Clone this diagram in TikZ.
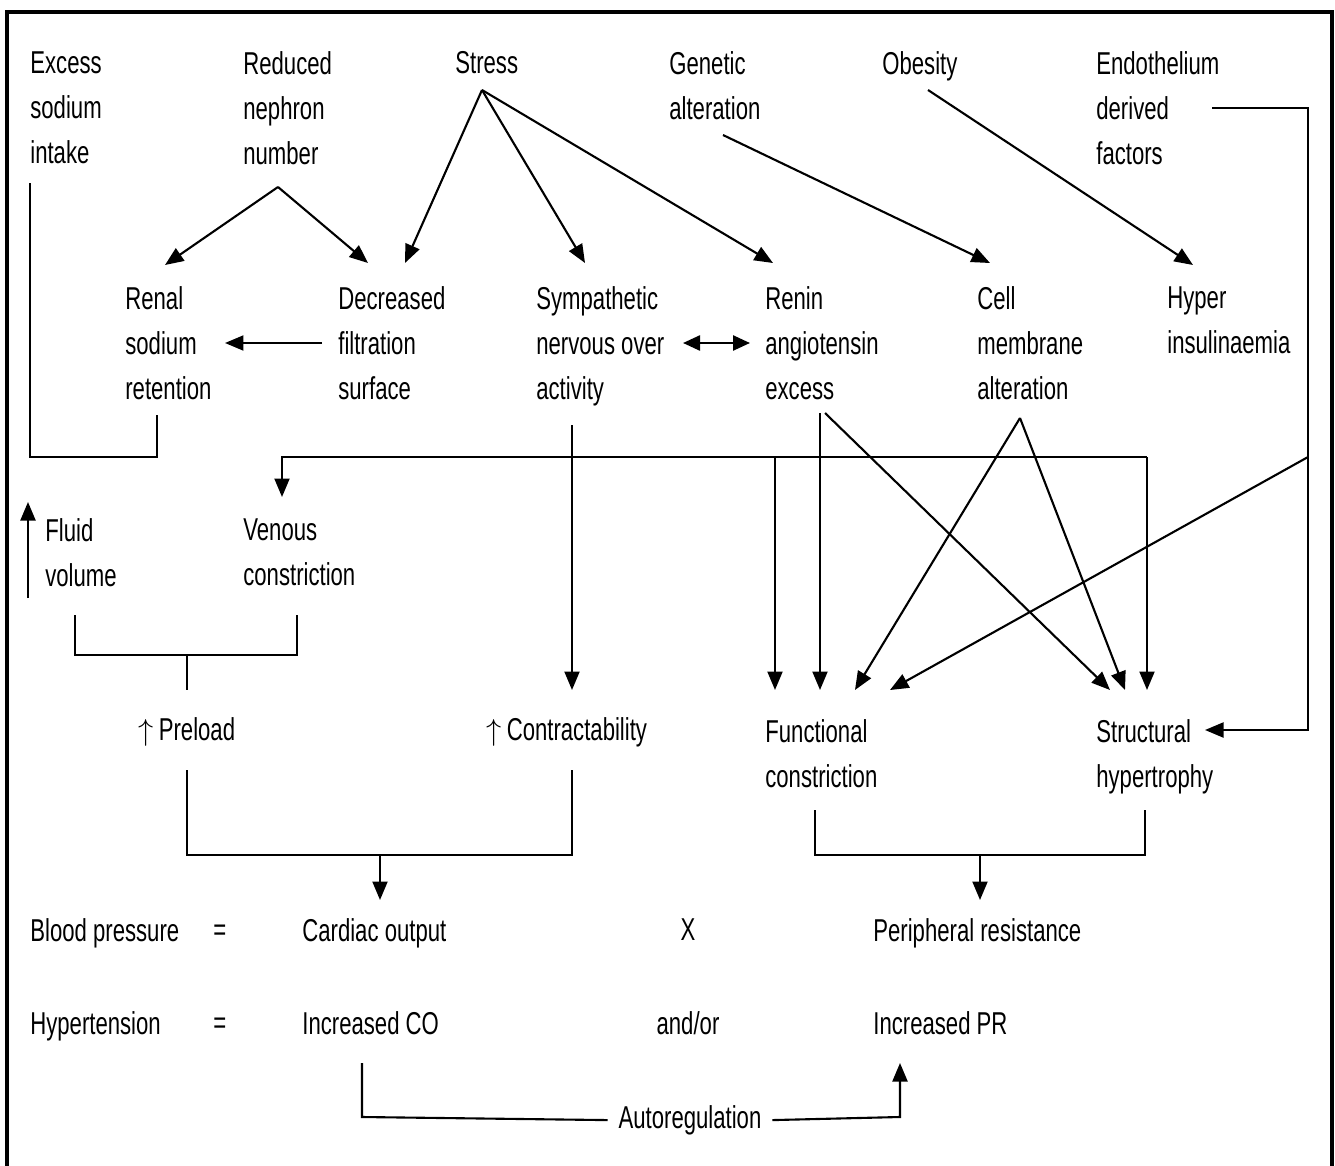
\documentclass[tikz,border=0pt]{standalone}
\usepackage{fontspec}
\setmainfont{Liberation Sans}[FakeStretch=0.7]
\usetikzlibrary{arrows.meta}
\begin{document}
\begin{tikzpicture}[x=0.02cm, y=-0.02cm, line join=miter, line cap=butt,
	lbl/.style={anchor=north west, inner sep=0pt, align=left, font=\fontsize{18}{25.6}\selectfont},
	ctr/.style={anchor=north, inner sep=0pt, font=\fontsize{18}{25.6}\selectfont},
	ln/.style={line width=1.2pt},
	arr/.style={line width=1.2pt, -{Triangle[length=0.37cm, width=0.3cm]}},
	darr/.style={line width=1.4pt, {Triangle[length=0.34cm, width=0.3cm]}-{Triangle[length=0.34cm, width=0.3cm]}}]
	\useasboundingbox (0,0) rectangle (1335,1166);
	\draw[line width=2.4pt] (7,1180) -- (7,12) -- (1332,12) -- (1332,1180);
	\node[lbl] (exc) at (30,51) {Excess\\sodium\\intake};
	\node[lbl] (red) at (243,51) {Reduced\\nephron\\number};
	\node[lbl] (str) at (455,51) {Stress};
	\node[lbl] (gen) at (669,51) {Genetic\\alteration};
	\node[lbl] (obe) at (882,51) {Obesity};
	\node[lbl] (endo) at (1096,51) {Endothelium\\derived\\factors};
	\node[lbl] (ren) at (125,286) {Renal\\sodium\\retention};
	\node[lbl] (dec) at (338,286) {Decreased\\filtration\\surface};
	\node[lbl] (sym) at (536,286) {Sympathetic\\nervous over\\activity};
	\node[lbl] (rai) at (765,286) {Renin\\angiotensin\\excess};
	\node[lbl] (cell) at (977,286) {Cell\\membrane\\alteration};
	\node[lbl] (hyp) at (1167,286) {Hyper\\insulinaemia};
	\node[lbl] (flu) at (45,518) {Fluid\\volume};
	\node[lbl] (ven) at (243,518) {Venous\\constriction};
	\node[lbl] (pre) at (138,717) {$\uparrow$\,Preload};
	\node[lbl] (con) at (486,717) {$\uparrow$\,Contractability};
	\node[lbl] (fun) at (765,719) {Functional\\constriction};
	\node[lbl] (stru) at (1096,719) {Structural\\hypertrophy};
	\node[lbl] (bp) at (30,918) {Blood pressure};
	\node[lbl] (eqa) at (213,918) {\vphantom{E}=};
	\node[lbl] (co) at (302,918) {Cardiac output};
	\node[ctr] (times) at (688,918) {X};
	\node[lbl] (pr) at (873,918) {Peripheral resistance};
	\node[lbl] (ht) at (30,1011) {Hypertension};
	\node[lbl] (eqb) at (213,1011) {\vphantom{E}=};
	\node[lbl] (ico) at (302,1011) {Increased CO};
	\node[ctr] (andor) at (688,1011) {and/or};
	\node[lbl] (ipr) at (873,1011) {Increased PR};
	\node[ctr, inner xsep=6pt] (auto) at (690,1105) {Autoregulation};
	\coordinate (nephP) at (278,187);
	\coordinate (stressP) at (482,90);
	\coordinate (cellP) at (1020,418);
	\coordinate (busL) at (282,457);
	\coordinate (busR) at (1147,457);
	\coordinate (endoR) at (1308,108);
	\coordinate (endoB) at (1308,457);
	\draw[ln] (30,183) -- (30,457) -- (157,457) -- (157,415);
	\draw[arr] (nephP) -- (165,265);
	\draw[arr] (nephP) -- (368,263);
	\draw[arr] (stressP) -- (405,263);
	\draw[arr] (stressP) -- (585,263);
	\draw[arr] (stressP) -- (773,263);
	\draw[arr] (723,135) -- (990,263);
	\draw[arr] (928,90) -- (1193,265);
	\draw[arr] (1212,108) -- (endoR) -- (1308,730) -- (1205,730);
	\draw[arr] (endoB) -- (890,690);
	\draw[arr] (322,343) -- (225,343);
	\draw[darr] (683,343) -- (750,343);
	\draw[arr] (572,425) -- (572,690);
	\draw[arr] (busR) -- (busL) -- (282,497);
	\draw[arr] (busR) -- (1147,690);
	\draw[arr] (775,457) -- (775,690);
	\draw[arr] (820,413) -- (820,690);
	\draw[arr] (825,413) -- (1110,690);
	\draw[arr] (cellP) -- (855,690);
	\draw[arr] (cellP) -- (1125,690);
	\draw[arr] (28,598) -- (28,502);
	\draw[ln] (75,615) -- (75,655) -- (297,655) -- (297,615);
	\draw[ln] (187,655) -- (187,690);
	\draw[ln] (187,770) -- (187,855) -- (572,855) -- (572,770);
	\draw[arr] (380,855) -- (380,900);
	\draw[ln] (815,810) -- (815,855) -- (1145,855) -- (1145,810);
	\draw[arr] (980,855) -- (980,900);
	\draw[ln] (362,1063) -- (362,1117) -- (auto.west);
	\draw[arr] (auto.east) -- (900,1117) -- (900,1063);
\end{tikzpicture}
\end{document}
